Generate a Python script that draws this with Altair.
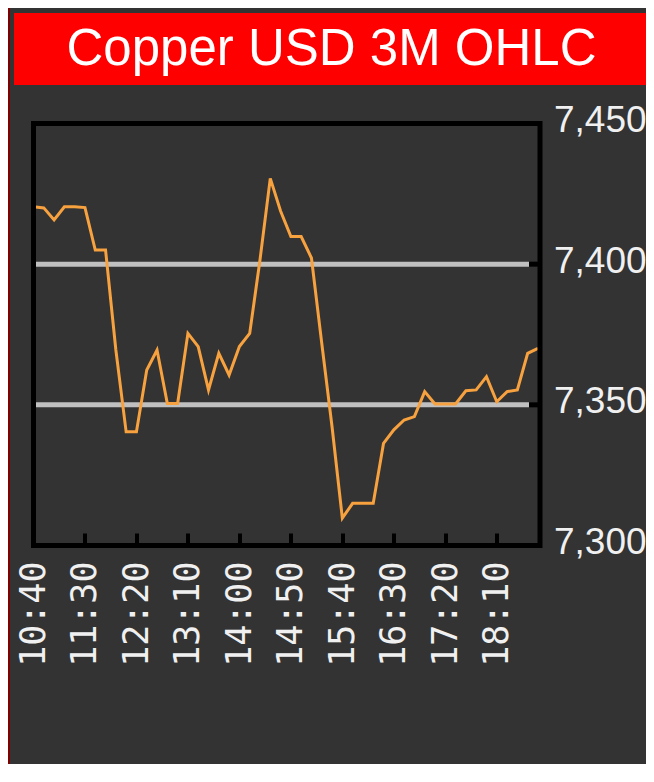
import altair as alt
import pandas as pd

TITLE = "Copper USD 3M OHLC"

times = ["10:40", "10:50", "11:00", "11:10", "11:20", "11:30", "11:40", "11:50",
         "12:00", "12:10", "12:20", "12:30", "12:40", "12:50", "13:00", "13:10",
         "13:20", "13:30", "13:40", "13:50", "14:00", "14:10", "14:20", "14:30",
         "14:40", "14:50", "15:00", "15:10", "15:20", "15:30", "15:40", "15:50",
         "16:00", "16:10", "16:20", "16:30", "16:40", "16:50", "17:00", "17:10",
         "17:20", "17:30", "17:40", "17:50", "18:00", "18:10", "18:20", "18:30",
         "18:40", "18:50"]

prices = [7420.4, 7420.0, 7415.7, 7420.4, 7420.4, 7420.1, 7405.0, 7405.0,
          7369.5, 7340.4, 7340.4, 7362.4, 7369.5, 7350.5, 7350.5, 7375.4,
          7370.7, 7355.3, 7368.3, 7360.6, 7370.7, 7375.4, 7401.5, 7430.5,
          7418.9, 7409.8, 7409.8, 7402.2, 7371.9, 7342.2, 7309.7, 7315.0,
          7315.0, 7315.0, 7336.3, 7341.1, 7344.6, 7345.8, 7354.7, 7350.3,
          7350.3, 7350.3, 7355.0, 7355.3, 7360.0, 7351.1, 7354.7, 7355.3,
          7368.3, 7370.1]

x_tick_labels = ["10:40", "11:30", "12:20", "13:10", "14:00",
                 "14:50", "15:40", "16:30", "17:20", "18:10"]
y_tick_values = [7300, 7350, 7400, 7450]
grid_values = [7350, 7400]
x_domain_labels = ["10:40", "18:52"]


def to_min(s):
    h, m = s.split(":")
    return int(h) * 60 + int(m)


df = pd.DataFrame({"time": times, "price": prices})
df["minute"] = df["time"].map(to_min)
grid_df = pd.DataFrame({"price": grid_values})

W, H = 506.5, 422
PAD = {"left": 25.5, "top": 115.5, "right": 106, "bottom": 218.5}

x_scale = alt.Scale(domain=[to_min(s) for s in x_domain_labels], nice=False, zero=False)
y_scale = alt.Scale(domain=[y_tick_values[0], y_tick_values[-1]], nice=False, zero=False)

label_expr = ("floor(datum.value / 60) + ':' + (datum.value % 60 < 10 ? '0' : '') + "
              "(datum.value % 60)")

y_axis = alt.Axis(orient="right", values=y_tick_values, format=",d", title=None,
                  grid=False, domain=False, ticks=False, tickSize=0,
                  labelFont="Liberation Sans", labelFontSize=37,
                  labelColor="#f0f0f0", labelPadding=13.5, labelFlush=False,
                  labelOverlap=False, labelBaseline="middle", labelOffset=-3)

line = alt.Chart(df).mark_line(color="#f7a13f", strokeWidth=3, clip=True).encode(
    x=alt.X("minute:Q", scale=x_scale,
            axis=alt.Axis(values=[to_min(s) for s in x_tick_labels], labelExpr=label_expr,
                          title=None, grid=False, domain=False, ticks=True,
                          tickSize=12.5, tickWidth=4, tickColor="black", offset=-12.5,
                          labelAngle=270, labelFont="DejaVu Sans Mono", labelFontSize=35,
                          labelColor="#f0f0f0", labelPadding=15.5, labelFlush=False,
                          labelOverlap=False)),
    y=alt.Y("price:Q", scale=y_scale, axis=y_axis),
)

grid = alt.Chart(grid_df).mark_rule(color="#c0c0c0", strokeWidth=5).encode(
    y=alt.Y("price:Q", scale=y_scale, axis=y_axis),
    x=alt.value(0), x2=alt.value(W - 11),
)
yticks = alt.Chart(grid_df).mark_rule(color="black", strokeWidth=5).encode(
    y=alt.Y("price:Q", scale=y_scale, axis=y_axis),
    x=alt.value(W - 11), x2=alt.value(W),
)

one = alt.Data(values=[{"t": TITLE}])

frame = alt.Chart(one).mark_rect(filled=False, stroke="black", strokeWidth=5).encode(
    x=alt.value(0), x2=alt.value(W), y=alt.value(0), y2=alt.value(H),
)

title_bar = alt.Chart(one).mark_rect(color="#ff0000").encode(
    x=alt.value(-19.5), x2=alt.value(615.5), y=alt.value(-110.5), y2=alt.value(-38.5),
)
title_text = alt.Chart(one).mark_text(
    align="center", baseline="alphabetic", font="Liberation Sans",
    fontSize=51, color="white",
).encode(text="t:N", x=alt.value(298), y=alt.value(-58.5))

border_left = alt.Chart(one).mark_rect(color="#800000").encode(
    x=alt.value(-25.5), x2=alt.value(-23.5), y=alt.value(-115.5), y2=alt.value(H + 218.5),
)

chart = alt.layer(
    border_left, title_bar, title_text, grid, yticks, line, frame
).properties(
    width=W, height=H, autosize="none", padding=PAD, background="#333333",
).configure_view(stroke="transparent")

chart.save("out.html", embed_options={"renderer": "svg", "actions": False})
